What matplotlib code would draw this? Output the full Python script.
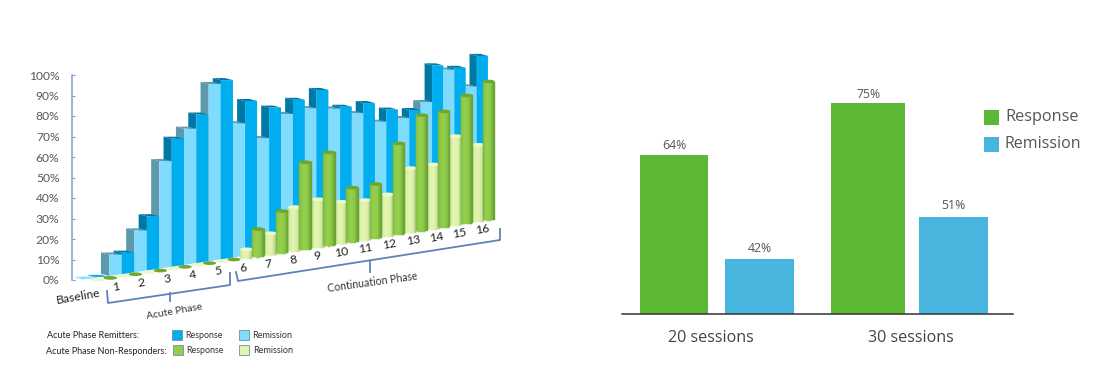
import numpy as np
import matplotlib
matplotlib.use("Agg")
import matplotlib.pyplot as plt
from matplotlib.colors import to_rgb
from matplotlib.patches import Rectangle

W, H = 1111, 388

# ---------- Data, left chart ----------
categories = ["Baseline", "1", "2", "3", "4", "5", "6", "7", "8", "9", "10", "11", "12", "13", "14", "15", "16"]
remitters_response = [0, 10, 26, 62, 72, 87, 75, 70, 72, 75, 65, 65, 60, 58, 78, 75, 79]
remitters_remission = [0, 10, 20, 52, 66, 86, 65, 56, 66, 67, 65, 61, 55, 55, 61, 75, 65]
nonresp_response = [0, 0, 0, 0, 0, 0, 13, 20, 42, 45, 26, 26, 44, 56, 56, 62, 67]
nonresp_remission = [0, 0, 0, 0, 0, 0, 4, 10, 21, 23, 20, 19, 20, 31, 31, 43, 37]
y_ticks = list(range(0, 101, 10))

# ---------- Data, right chart ----------
sessions = ["20 sessions", "30 sessions"]
response = [64, 75]
remission = [42, 51]

# ---------- Colors ----------
BLUE = "#00aeef"
BLUE_SIDE = "#0078a6"
LIGHT = "#7fdcff"
LIGHT_SIDE = "#5c99ad"
GREEN = "#93cf4c"
GREEN_EDGE = "#6aa534"
GREEN_CAP = "#70a82e"
PALE = "#e0f6ae"
PALE_EDGE = "#b4cb8c"
PALE_CAP = "#ecf9c8"
AXIS_BLUE = "#7f9fcb"
BRACE = "#5c82b8"

plt.rcParams["font.family"] = ["Lato", "DejaVu Sans"]
fig = plt.figure(figsize=(W / 100, H / 100), dpi=100)


def to_fig(left, top, right, bottom):
    return [left / W, 1 - bottom / H, (right - left) / W, (bottom - top) / H]


# ---------- Perspective x scale: categories get narrower to the right ----------
A, B = 25.41, -0.097


def fwd(c):
    c = np.asarray(c, dtype=float)
    return A * c + B * c ** 2


def inv(u):
    u = np.asarray(u, dtype=float)
    return (-A + np.sqrt(A ** 2 + 4 * B * u)) / (2 * B)


def lift(c):
    # floor rises towards the right
    return 0.15 + 1.8 * c


c_lo, c_hi = float(inv(72 - 84)), 18.0
ax = fig.add_axes(to_fig(72, 75, 84 + float(fwd(c_hi)), 280))
ax.set_xscale("function", functions=(fwd, inv))
ax.set_xlim(c_lo, c_hi)
ax.set_ylim(0, 100)
ax.autoscale(False)
ax.patch.set_alpha(0)
for s in ["top", "right", "bottom"]:
    ax.spines[s].set_visible(False)
ax.spines["left"].set_color(AXIS_BLUE)
ax.spines["left"].set_linewidth(1.1)
ax.set_xticks([])
ax.minorticks_off()
ax.set_yticks(y_ticks)
ax.set_yticklabels([f"{v}%" for v in y_ticks], color="#595959", fontsize=8.7)
ax.tick_params(axis="y", direction="in", length=2.5, color=AXIS_BLUE, width=0.8, pad=9)

DX, DY = 0.33, 1.0


def back_bar(c0, c1, value, front, side, order):
    mid = (c0 + c1) / 2
    top = value + lift(mid)
    ax.fill([c0, c0, c0 - DX, c0 - DX], [lift(c0), top, top + DY, lift(c0) + DY],
            color=side, lw=0, zorder=2, clip_on=False)
    ax.fill([c0, c1, c1 - DX, c0 - DX], [top, top, top + DY, top + DY],
            color=side, lw=0, zorder=2 + order * 0.001, clip_on=False)
    if value > 0:
        ax.fill([c0, c1, c1, c0], [lift(c0), lift(c1), top, top],
                color=front, lw=0, zorder=3, clip_on=False)


for i in range(len(categories)):
    back_bar(i, i + 0.5, remitters_remission[i], LIGHT, LIGHT_SIDE if i else LIGHT, i)
    back_bar(i + 0.5, i + 1, remitters_response[i], BLUE, BLUE_SIDE if i else BLUE, i)

SHIFT = 0.27
RY = 0.9
theta = np.linspace(0, 2 * np.pi, 40)


def mix(a, b, t):
    a, b = np.array(to_rgb(a)), np.array(to_rgb(b))
    return tuple(a + (b - a) * t)


def cylinder(c0, c1, value, body, edge, cap, z):
    mid = (c0 + c1) / 2
    r = (c1 - c0) / 2
    base = lift(mid) - 1
    top = base + value
    if value > 0:
        edges = np.linspace(c0, c1, 15)
        for a, b in zip(edges[:-1], edges[1:]):
            m = (a + b) / 2
            u = (m - mid) / r
            # dark at the rim, brightest a bit left of centre
            shade = min(1, abs(u + 0.15) ** 2.6 * 1.1)
            col = mix(body, edge, shade)
            low = base - RY * np.sqrt(max(0, 1 - u ** 2))
            ax.fill([a, b, b, a], [low, low, top, top], color=col, lw=0.3, zorder=z, clip_on=False)
    ax.fill(mid + r * np.cos(theta), top + RY * np.sin(theta), color=cap, lw=0, zorder=z + 0.1, clip_on=False)


for i in range(len(categories)):
    cylinder(i + SHIFT + 0.02, i + SHIFT + 0.57, nonresp_remission[i], PALE, PALE_EDGE, PALE_CAP, 4)
for i in range(len(categories)):
    cylinder(i + SHIFT + 0.5, i + SHIFT + 1.04, nonresp_response[i], GREEN, GREEN_EDGE, GREEN_CAP, 5)

# ---------- Category labels ----------
for i, name in enumerate(categories):
    if i == 0:
        cx, cy = -0.24, lift(-0.24) - 8
    else:
        cx = i + 0.23 + 0.033 * i
        cy = lift(cx) - 5.6
    ax.text(cx, cy, name, fontsize=8.8, color="#222222", rotation=10, ha="center", va="center",
            rotation_mode="anchor", clip_on=False, zorder=6)

# ---------- Right chart, value axis starts above zero ----------
rx = fig.add_axes(to_fig(622, 79.7, 1013, 314.3))
rx.patch.set_alpha(0)
groups = np.arange(len(sessions))
resp_bars = rx.bar(groups - 0.22, response, width=[0.35, 0.38], color="#5bb734")
rem_bars = rx.bar(groups + 0.22, remission, width=[0.355, 0.355], color="#47b5dd")
rx.set_xlim(-0.49, 1.526)
rx.set_ylim(30.3, 80)
for s in ["top", "right", "left"]:
    rx.spines[s].set_visible(False)
rx.spines["bottom"].set_color("#333333")
rx.spines["bottom"].set_linewidth(1.1)
rx.set_yticks([])
rx.set_xticks([-0.03, 1])
rx.set_xticklabels(sessions, fontsize=11.6, color="#444444", family=["Open Sans", "DejaVu Sans"])
rx.tick_params(axis="x", length=0, pad=11)
rx.bar_label(resp_bars, labels=[f"{v}%" for v in response], padding=2, fontsize=8.8, color="#555555",
             family=["Open Sans", "DejaVu Sans"])
rx.bar_label(rem_bars, labels=[f"{v}%" for v in remission], padding=3, fontsize=8.8, color="#555555",
             family=["Open Sans", "DejaVu Sans"])

# ---------- Overlay in picture pixels: braces, phase names, legends ----------
ov = fig.add_axes([0, 0, 1, 1])
ov.set_xlim(0, W)
ov.set_ylim(H, 0)
ov.axis("off")
ov.patch.set_alpha(0)

ov.plot([107, 108, 230, 230], [291, 303, 285, 273], color=BRACE, lw=1.3)
ov.plot([170, 170], [293, 301], color=BRACE, lw=1.3)
ov.plot([236, 238, 500, 500], [272, 281, 240, 229], color=BRACE, lw=1.3)
ov.plot([370, 370], [261, 272], color=BRACE, lw=1.3)
ov.text(174, 312, "Acute Phase", fontsize=7.5, color="#333333", rotation=10, ha="center", va="center")
ov.text(372, 282, "Continuation Phase", fontsize=7.6, color="#333333", rotation=8, ha="center", va="center")

ov.text(47, 335, "Acute Phase Remitters:", fontsize=6.5, color="#222222", va="center")
ov.text(46, 351, "Acute Phase Non-Responders:", fontsize=6.5, color="#222222", va="center")
legend_rows = [
    (335, BLUE, LIGHT, 172, 239, 185, 252),
    (350, GREEN, PALE, 173, 239, 186, 253),
]
for y, c_resp, c_rem, x1, x2, t1, t2 in legend_rows:
    ov.add_patch(Rectangle((x1, y - 5), 10, 10, fc=c_resp, ec="#6f8fa8", lw=0.6))
    ov.add_patch(Rectangle((x2, y - 5), 10, 10, fc=c_rem, ec="#6f8fa8", lw=0.6))
    ov.text(t1, y + 0.5, "Response", fontsize=6.4, color="#333333", va="center")
    ov.text(t2, y + 0.5, "Remission", fontsize=6.5, color="#333333", va="center")

ov.add_patch(Rectangle((984, 110), 15, 15, fc="#5bb734", lw=0))
ov.add_patch(Rectangle((984, 137), 15, 15, fc="#47b5dd", lw=0))
ov.text(1005, 117, "Response", fontsize=11.7, color="#555555", va="center", family=["Open Sans", "DejaVu Sans"])
ov.text(1004, 144, "Remission", fontsize=11.5, color="#555555", va="center", family=["Open Sans", "DejaVu Sans"])

fig.savefig("out.png", dpi=100)
